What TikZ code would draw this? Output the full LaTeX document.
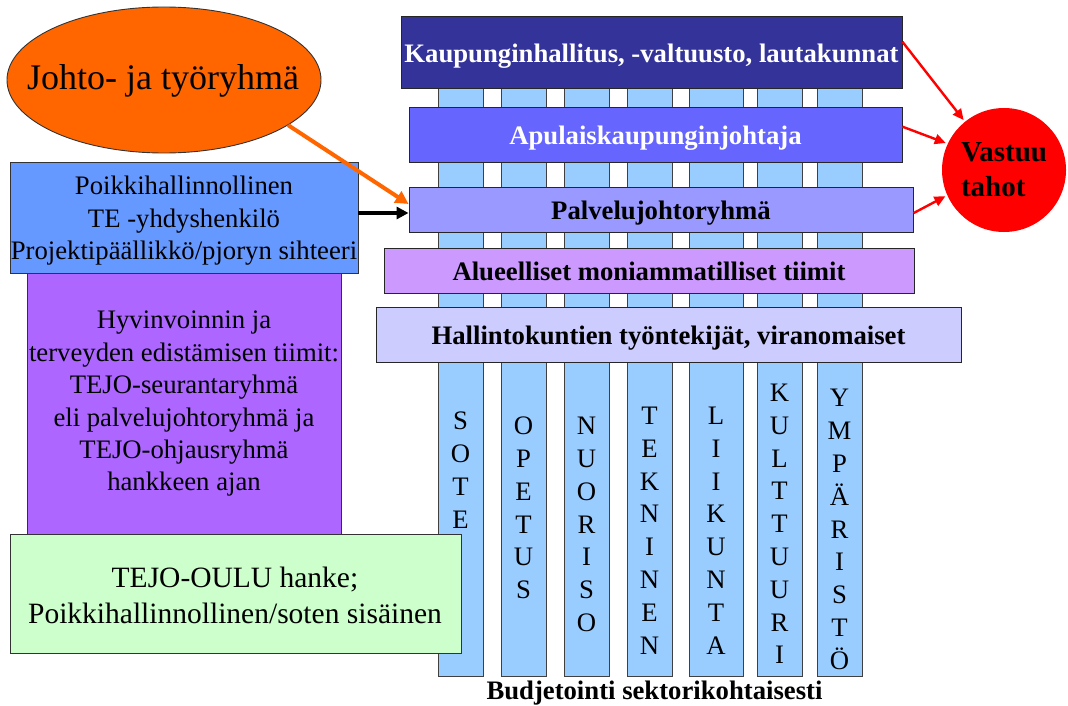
\documentclass[tikz,border=0pt]{standalone}
\usepackage{fontspec}
\setmainfont{Liberation Serif}
\usetikzlibrary{arrows.meta,shapes.geometric,calc}

\definecolor{navybar}{HTML}{333399}
\definecolor{bluebar}{HTML}{6666FF}
\definecolor{periwinkle}{HTML}{9999FF}
\definecolor{lilac}{HTML}{CC99FF}
\definecolor{paleblue}{HTML}{CCCCFF}
\definecolor{sky}{HTML}{99CCFF}
\definecolor{teblue}{HTML}{6699FF}
\definecolor{violetbox}{HTML}{AD66FF}
\definecolor{mint}{HTML}{CCFFCC}
\definecolor{orangeA}{HTML}{FF6600}

\tikzset{
  bar/.style={draw=black!85, line width=0.9pt, inner sep=0pt,
    text height=20.5pt, text depth=0pt,
    font=\bfseries\fontsize{26.7}{32}\selectfont},
  sidebox/.style={draw=black!80, line width=0.9pt, inner sep=0pt},
  column/.style={draw=black!75, line width=0.9pt, fill=sky},
  letters/.style={align=center, inner sep=0pt,
    font=\fontsize{26.7}{32.8}\selectfont},
  bodytext/.style={align=center, inner sep=0pt,
    font=\fontsize{26.7}{32.4}\selectfont},
  redarrow/.style={draw=red, line width=2.4pt,
    -{Triangle[length=11pt,width=10pt]}},
  orangearrow/.style={draw=orangeA, line width=4pt,
    -{Triangle[length=13pt,width=13pt]}},
  blackarrow/.style={draw=black, line width=3.6pt,
    -{Triangle[length=12pt,width=12pt]}},
}

\begin{document}
\begin{tikzpicture}[x=1pt,y=-1pt]
\useasboundingbox (0,0) rectangle (1068,706);

% sector columns running behind the horizontal bars
\draw[column] (438,60) rectangle (483,676);
\draw[column] (501,60) rectangle (546,676);
\draw[column] (564,60) rectangle (609,676);
\draw[column] (627,60) rectangle (672,676);
\draw[column] (689,60) rectangle (743,676);
\draw[column] (757,60) rectangle (802,676);
\draw[column] (817,60) rectangle (862,676);

\node[letters] (sote)     at (460.5,470)   {S\\O\\T\\E};
\node[letters] (opetus)   at (523.5,508)   {O\\P\\E\\T\\U\\S};
\node[letters] (nuoriso)  at (586.5,524.5) {N\\U\\O\\R\\I\\S\\O};
\node[letters] (tekninen) at (649.5,530.5) {T\\E\\K\\N\\I\\N\\E\\N};
\node[letters] (liikunta) at (716,530.5)   {L\\I\\I\\K\\U\\N\\T\\A};
\node[letters] (kulttuuri) at (779.5,524)  {K\\U\\L\\T\\T\\U\\U\\R\\I};
\node[letters] (ymparisto) at (839.5,529.5) {Y\\M\\P\\Ä\\R\\I\\S\\T\\Ö};

% horizontal organisation levels
\node[bar, fill=navybar, text=white, minimum width=501, minimum height=72]
  (council) at (651.5,52) {Kaupunginhallitus, -valtuusto, lautakunnat};
\node[bar, fill=bluebar, text=white, minimum width=493, minimum height=55]
  (deputy) at (655.5,134.5) {Apulaiskaupunginjohtaja};
\node[bar, fill=periwinkle, minimum width=504, minimum height=45]
  (service) at (661,209.5) {Palvelujohtoryhmä};
\node[bar, fill=lilac, minimum width=530, minimum height=45]
  (regional) at (649,270.5) {Alueelliset moniammatilliset tiimit};
\node[bar, fill=paleblue, minimum width=585, minimum height=55]
  (staff) at (668.5,334.5) {Hallintokuntien työntekijät, viranomaiset};

% left-hand side boxes
\node[sidebox, fill=violetbox, minimum width=314, minimum height=284]
  (teams) at (184,392) {};
\node[bodytext] (teams-text) at (184,403.8)
  {Hyvinvoinnin ja\\terveyden edistämisen tiimit:\\TEJO-seurantaryhmä\\eli palvelujohtoryhmä ja\\TEJO-ohjausryhmä\\hankkeen ajan};

\node[sidebox, fill=teblue, minimum width=348, minimum height=111]
  (contact) at (184,217.5) {};
\node[bodytext] (contact-text) at (184,220.8)
  {Poikkihallinnollinen\\TE -yhdyshenkilö\\Projektipäällikkö/pjoryn sihteeri};

\node[sidebox, fill=mint, minimum width=451, minimum height=119]
  (project) at (235.5,593.5) {};
\node[align=center, inner sep=0pt, font=\fontsize{29.5}{36}\selectfont]
  (project-text) at (235,595.2)
  {TEJO-OULU hanke;\\Poikkihallinnollinen/soten sisäinen};

% steering group ellipse
\node[ellipse, draw=black!80, line width=0.9pt, fill=orangeA, inner sep=0pt,
  minimum width=314, minimum height=146] (steering) at (164,80) {};
\node[inner sep=0pt, anchor=base, font=\fontsize{36}{43}\selectfont]
  (steering-text) at (163,90) {Johto- ja työryhmä};

% responsible bodies
\node[circle, fill=red, inner sep=0pt, minimum size=124, align=left,
  font=\bfseries\fontsize{29}{35}\selectfont]
  (resp) at (1004,170) {Vastuu\\tahot};

% caption under the columns
\node[inner sep=0pt, anchor=base, font=\bfseries\fontsize{26.7}{32}\selectfont]
  (caption) at (654.5,699.8) {Budjetointi sektorikohtaisesti};

% connectors
\draw[orangearrow] (steering.-20.9) -- ($(service.north west)!0.38!(service.south west)$);
\draw[blackarrow] ($(contact.east)+(0,-4.5)$) coordinate (cstart) -- (cstart -| service.west);
\draw[redarrow, shorten >=2pt] ($(council.north east)!0.36!(council.south east)$) -- (resp.129);
\draw[redarrow, shorten >=2pt] ($(deputy.north east)!0.36!(deputy.south east)$) -- (resp.155);
\draw[redarrow, shorten >=2pt] ($(service.north east)!0.58!(service.south east)$) -- (resp.204);
\end{tikzpicture}
\end{document}
